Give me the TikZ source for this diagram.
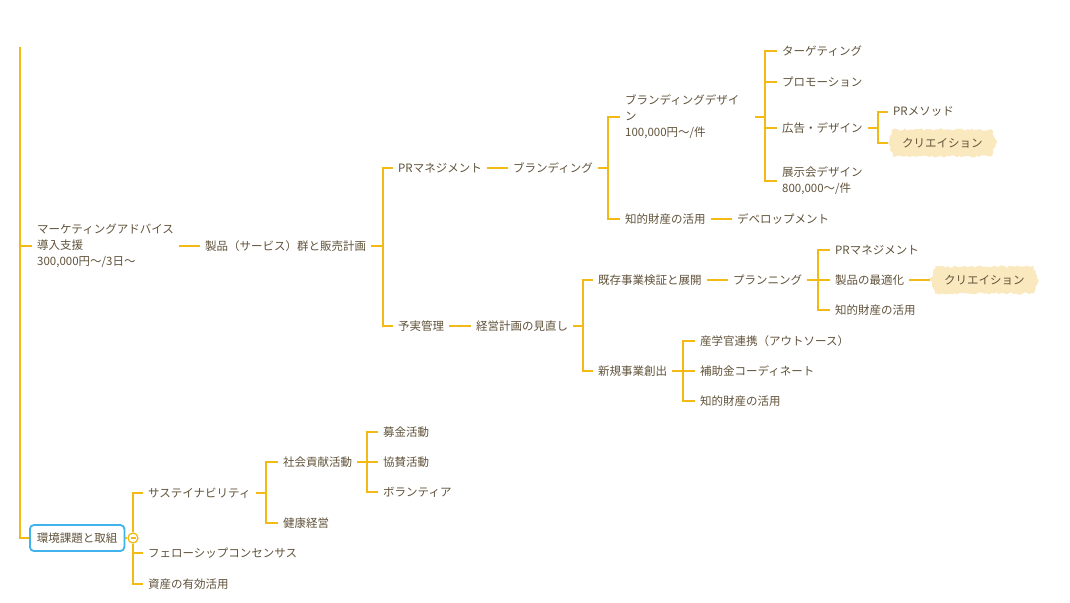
\documentclass[tikz,border=0pt]{standalone}
\usepackage{fontspec}
\setmainfont{Noto Sans CJK JP}
\usetikzlibrary{shapes.symbols,decorations.pathmorphing}
\definecolor{gold}{RGB}{243,186,22}
\definecolor{ink}{RGB}{96,82,58}
\definecolor{cream}{RGB}{250,233,190}
\definecolor{sky}{RGB}{64,178,236}

\begin{document}
\begin{tikzpicture}[x=1pt,y=-1pt,
    topic/.style={
      anchor=west,
      inner xsep=5pt,
      inner ysep=2pt,
      text=ink,
      align=left,
      font=\fontsize{11.5}{16}\selectfont},
    stroke/.style={
      topic,
      shape=signal,
      signal to=east and west,
      signal pointer angle=140,
      fill=cream,
      inner xsep=9pt,
      inner ysep=6pt,
      minimum height=27pt,
      decorate,
      decoration={random steps,segment length=2.5pt,amplitude=1.3pt}},
    issue/.style={
      topic,
      draw=sky,
      line width=1.8pt,
      rounded corners=4pt,
      fill=white,
      inner xsep=7pt,
      minimum height=26pt},
    fold/.style={
      circle,
      draw=gold,
      fill=white,
      line width=1.3pt,
      inner sep=0pt,
      minimum size=10pt},
    link/.style={draw=gold, line width=2pt}
  ]
    \useasboundingbox (0,0) rectangle (1070,602);
    \coordinate (top) at (20,47);
    \node[topic] (M) at (32,246) {マーケティングアドバイス\\導入支援\\300,000円～/3日～};
    \node[topic] (S) at (200,246) {製品（サービス）群と販売計画};
    \node[topic] (PR) at (393,168) {PRマネジメント};
    \node[topic] (B) at (508,168) {ブランディング};
    \node[topic,text width=125pt] (BD) at (620,117) {ブランディングデザイ\\ン\\100,000円～/件};
    \node[topic] (T1) at (777,51) {ターゲティング};
    \node[topic] (T2) at (777,82) {プロモーション};
    \node[topic] (T3) at (777,128) {広告・デザイン};
    \node[topic] (T4) at (777,181) {展示会デザイン\\800,000～/件};
    \node[topic] (PM) at (888,112) {PRメソッド};
    \node[stroke] (CR1) at (888,143) {クリエイション};
    \node[topic] (F1) at (620,219) {知的財産の活用};
    \node[topic] (DV) at (732,219) {デベロップメント};
    \node[topic] (YJ) at (393,326) {予実管理};
    \node[topic] (KK) at (471,326) {経営計画の見直し};
    \node[topic] (KZ) at (593,280) {既存事業検証と展開};
    \node[topic] (PL) at (728,280) {プランニング};
    \node[topic] (PR2) at (830,250) {PRマネジメント};
    \node[topic] (SS) at (830,280) {製品の最適化};
    \node[stroke] (CR2) at (930,280) {クリエイション};
    \node[topic] (F2) at (830,310) {知的財産の活用};
    \node[topic] (SJ) at (593,371) {新規事業創出};
    \node[topic] (SG) at (695,341) {産学官連携（アウトソース）};
    \node[topic] (HJ) at (695,371) {補助金コーディネート};
    \node[topic] (F3) at (695,401) {知的財産の活用};
    \node[issue] (E) at (29,538) {環境課題と取組};
    \node[fold] (cl) at (133,538) {\color{gold}\rule{5pt}{1.2pt}};
    \node[topic] (SU) at (143,493) {サステイナビリティ};
    \node[topic] (SK) at (278,462) {社会貢献活動};
    \node[topic] (BK) at (378,432) {募金活動};
    \node[topic] (KS) at (378,462) {協賛活動};
    \node[topic] (BR) at (378,492) {ボランティア};
    \node[topic] (KE) at (278,523) {健康経営};
    \node[topic] (FS) at (143,553) {フェローシップコンセンサス};
    \node[topic] (SY) at (143,584) {資産の有効活用};

    \draw[link] (top) |- (M.west);
    \draw[link] (top) |- (E.west);
    \draw[link] (M.east) -- (S.west);
    \draw[link] (S.east) -- ++(12,0) |- (PR.west);
    \draw[link] (S.east) -- ++(12,0) |- (YJ.west);
    \draw[link] (PR.east) -- (B.west);
    \draw[link] (B.east) -- ++(10,0) |- (BD.west);
    \draw[link] (B.east) -- ++(10,0) |- (F1.west);
    \draw[link] (BD.east) -- ++(10,0) |- (T1.west);
    \draw[link] (BD.east) -- ++(10,0) |- (T2.west);
    \draw[link] (BD.east) -- ++(10,0) |- (T3.west);
    \draw[link] (BD.east) -- ++(10,0) |- (T4.west);
    \draw[link] (T3.east) -- ++(10,0) |- (PM.west);
    \draw[link] (T3.east) -- ++(10,0) |- (CR1.west);
    \draw[link] (F1.east) -- (DV.west);
    \draw[link] (YJ.east) -- (KK.west);
    \draw[link] (KK.east) -- ++(10,0) |- (KZ.west);
    \draw[link] (KK.east) -- ++(10,0) |- (SJ.west);
    \draw[link] (KZ.east) -- (PL.west);
    \draw[link] (PL.east) -- ++(11,0) |- (PR2.west);
    \draw[link] (PL.east) -- ++(11,0) |- (SS.west);
    \draw[link] (PL.east) -- ++(11,0) |- (F2.west);
    \draw[link] (SS.east) -- (CR2.west);
    \draw[link] (SJ.east) -- ++(11,0) |- (SG.west);
    \draw[link] (SJ.east) -- ++(11,0) |- (HJ.west);
    \draw[link] (SJ.east) -- ++(11,0) |- (F3.west);
    \draw[link] (E.east) -- (cl.west);
    \draw[link] (cl.north) |- (SU.west);
    \draw[link] (cl.south) |- (FS.west);
    \draw[link] (cl.south) |- (SY.west);
    \draw[link] (SU.east) -- ++(10,0) |- (SK.west);
    \draw[link] (SU.east) -- ++(10,0) |- (KE.west);
    \draw[link] (SK.east) -- ++(10,0) |- (BK.west);
    \draw[link] (SK.east) -- ++(10,0) |- (KS.west);
    \draw[link] (SK.east) -- ++(10,0) |- (BR.west);
  \end{tikzpicture}
\end{document}
